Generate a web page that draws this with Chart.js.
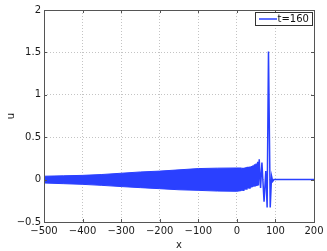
<!DOCTYPE html>
<html lang="en">
<head>
    <meta charset="UTF-8">
    <title>u at t=160</title>
    <script src="https://cdn.jsdelivr.net/npm/chart.js@4"></script>
    <style>
        html, body {
            margin: 0;
            padding: 0;
            background: #ffffff;
        }
        .chart-box {
            width: 327px;
            height: 251px;
        }
    </style>
</head>
<body>
    <div class="chart-box">
        <canvas id="waveChart" width="327" height="251"></canvas>
    </div>
    <script>
        // envelope of the dense oscillating tail
        const bandX     = [-500, -450, -400, -350, -300, -250, -200, -150, -100, -50, 0, 12];
        const bandUpper = [0.04, 0.045, 0.05, 0.06, 0.075, 0.09, 0.1, 0.115, 0.13, 0.135, 0.137, 0.137];
        const bandLower = [-0.04, -0.048, -0.056, -0.068, -0.082, -0.095, -0.107, -0.12, -0.127, -0.135, -0.138, -0.13];

        // resolved part of the wave near the front
        const waveX = [8, 10, 12, 14, 16, 18, 20, 22, 24, 26, 28, 30, 32, 34, 36, 38, 40, 42, 44, 46, 48, 50, 52, 54, 56, 58, 61.5, 65, 70.5, 75, 78.5, 82, 86.5, 90, 93, 96, 200];
        const waveU = [-0.135, 0.135, -0.13, 0.14, -0.125, 0.14, -0.12, 0.145, -0.11, 0.15, -0.105, 0.15, -0.1, 0.155, -0.095, 0.16, -0.09, 0.17, -0.085, 0.18, -0.08, 0.19, -0.075, 0.21, -0.07, 0.24, -0.1, 0.2, -0.26, 0.1, -0.33, 1.51, -0.33, 0.04, -0.02, 0, 0];

        const xTicks = [-500, -400, -300, -200, -100, 0, 100, 200];
        const yTicks = [-0.5, 0, 0.5, 1, 1.5, 2];
        const seriesLabel = 't=160';
        const blue = '#2a40ff';
        const font = '"DejaVu Sans", sans-serif';

        const toPoints = (xs, ys) => xs.map((x, i) => ({ x: x, y: ys[i] }));
        const fmt = v => String(v).replace('-', '\u2212');

        // axes box, inward ticks and the boxed legend, matlab style
        const matlabFrame = {
            id: 'matlabFrame',
            afterDraw(chart) {
                const { ctx, chartArea: a, scales } = chart;
                ctx.save();
                ctx.strokeStyle = '#555';
                ctx.lineWidth = 1;
                ctx.strokeRect(Math.round(a.left) + 0.5, Math.round(a.top) + 0.5,
                    Math.round(a.right - a.left), Math.round(a.bottom - a.top));
                ctx.beginPath();
                xTicks.forEach(v => {
                    const px = Math.round(scales.x.getPixelForValue(v)) + 0.5;
                    ctx.moveTo(px, a.bottom); ctx.lineTo(px, a.bottom - 3);
                    ctx.moveTo(px, a.top); ctx.lineTo(px, a.top + 3);
                });
                yTicks.forEach(v => {
                    const py = Math.round(scales.y.getPixelForValue(v)) + 0.5;
                    ctx.moveTo(a.left, py); ctx.lineTo(a.left + 3, py);
                    ctx.moveTo(a.right, py); ctx.lineTo(a.right - 3, py);
                });
                ctx.stroke();

                // legend
                const w = 57, h = 13;
                const lx = Math.round(a.right) - 58.5, ly = Math.round(a.top) + 2.5;
                ctx.fillStyle = '#fff';
                ctx.fillRect(lx, ly, w, h);
                ctx.strokeStyle = '#333';
                ctx.strokeRect(lx, ly, w, h);
                ctx.strokeStyle = blue;
                ctx.lineWidth = 1.5;
                ctx.beginPath();
                ctx.moveTo(lx + 3.5, ly + h / 2);
                ctx.lineTo(lx + 21.5, ly + h / 2);
                ctx.stroke();
                ctx.fillStyle = '#111';
                ctx.font = '10px ' + font;
                ctx.textBaseline = 'middle';
                ctx.fillText(seriesLabel, lx + 22, ly + h / 2 + 0.5);
                ctx.restore();
            }
        };

        const ctx = document.getElementById('waveChart').getContext('2d');
        new Chart(ctx, {
            type: 'line',
            data: {
                datasets: [
                    {
                        label: 'upper',
                        data: toPoints(bandX, bandUpper),
                        borderColor: blue,
                        backgroundColor: blue,
                        borderWidth: 1,
                        pointRadius: 0,
                        fill: '+1'
                    },
                    {
                        label: 'lower',
                        data: toPoints(bandX, bandLower),
                        borderColor: blue,
                        borderWidth: 1,
                        pointRadius: 0,
                        fill: false
                    },
                    {
                        label: seriesLabel,
                        data: toPoints(waveX, waveU),
                        borderColor: blue,
                        borderWidth: 1.5,
                        pointRadius: 0,
                        tension: 0,
                        fill: false
                    }
                ]
            },
            options: {
                responsive: false,
                animation: false,
                layout: {
                    padding: { top: 10, right: 13, left: 0, bottom: 0 }
                },
                plugins: {
                    legend: { display: false },
                    tooltip: { enabled: false }
                },
                scales: {
                    x: {
                        type: 'linear',
                        min: -500,
                        max: 200,
                        afterBuildTicks: s => { s.ticks = xTicks.map(v => ({ value: v })); },
                        afterFit: s => { s.height = 29; },
                        ticks: {
                            color: '#1a1a1a',
                            font: { family: font, size: 10 },
                            padding: 3,
                            maxRotation: 0,
                            callback: v => fmt(v)
                        },
                        grid: {
                            color: '#c4c4c4',
                            drawTicks: false,
                            lineWidth: 1
                        },
                        border: { display: false, dash: [1, 2] },
                        title: {
                            display: true,
                            text: 'x',
                            color: '#1a1a1a',
                            font: { family: font, size: 10 },
                            padding: { top: 0, bottom: 0 }
                        }
                    },
                    y: {
                        type: 'linear',
                        min: -0.5,
                        max: 2,
                        afterBuildTicks: s => { s.ticks = yTicks.map(v => ({ value: v })); },
                        afterFit: s => { s.width = 44; },
                        ticks: {
                            color: '#1a1a1a',
                            font: { family: font, size: 10 },
                            padding: 3,
                            callback: v => fmt(v)
                        },
                        grid: {
                            color: '#c4c4c4',
                            drawTicks: false,
                            lineWidth: 1
                        },
                        border: { display: false, dash: [1, 2] },
                        title: {
                            display: true,
                            text: 'u',
                            color: '#1a1a1a',
                            font: { family: font, size: 10 },
                            padding: { top: 5, bottom: 0 }
                        }
                    }
                }
            },
            plugins: [matlabFrame]
        });
    </script>
</body>
</html>
